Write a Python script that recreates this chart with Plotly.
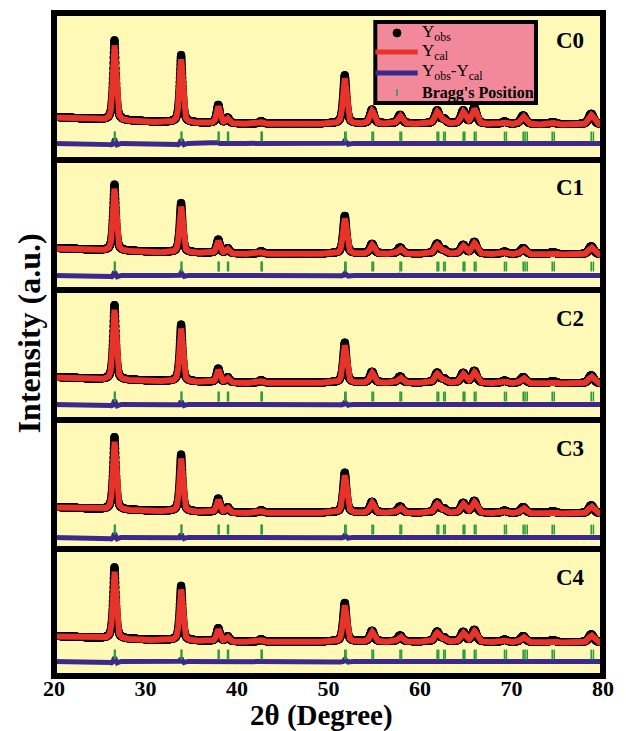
import numpy as np
import plotly.graph_objects as go

# ---------------- data ----------------
samples = ["C0", "C1", "C2", "C3", "C4"]

# refined reflections (2theta, degree) and their FWHM
peak_2theta = [26.61, 33.89, 37.95, 38.97, 42.64, 51.78, 54.76, 57.82,
               61.87, 62.59, 64.72, 65.94, 69.24, 71.28, 74.50, 78.71]
peak_fwhm = [0.42, 0.43, 0.44, 0.44, 0.46, 0.48, 0.55, 0.58,
             0.60, 0.60, 0.62, 0.62, 0.64, 0.66, 0.68, 0.70]

# peak intensities (counts) for each sample
intensity_C0 = [7550, 6350, 1700, 500, 200, 4550, 1300, 800, 1200, 400, 1200, 1500, 200, 800, 200, 1000]
intensity_C1 = [6250, 4650, 1250, 450, 200, 3550, 900, 550, 900, 350, 800, 1100, 200, 550, 200, 750]
intensity_C2 = [7050, 5350, 1250, 450, 200, 3750, 1000, 550, 900, 350, 900, 1100, 200, 550, 200, 750]
intensity_C3 = [6850, 5350, 1250, 450, 200, 3750, 1000, 550, 900, 350, 900, 1100, 200, 550, 200, 750]
intensity_C4 = [6750, 5150, 1200, 450, 200, 3650, 1000, 550, 900, 350, 900, 1100, 200, 550, 200, 750]
intensities = [intensity_C0, intensity_C1, intensity_C2, intensity_C3, intensity_C4]

# background (counts) at a few 2theta points
bg_2theta = [20, 26, 32, 40, 60, 80]
bg_C0 = [650, 350, 150, 0, 0, -100]
bg_C1 = [550, 300, 150, 0, 0, -100]
bg_C2 = [550, 300, 150, 0, 0, -100]
bg_C3 = [550, 300, 150, 0, 0, -100]
bg_C4 = [550, 300, 150, 0, 0, -100]
backgrounds = [bg_C0, bg_C1, bg_C2, bg_C3, bg_C4]

# Bragg positions (K-alpha1 / K-alpha2 reflections)
bragg_positions = [26.61, 26.68, 33.89, 33.97, 37.95, 38.04, 38.97, 39.07, 42.64, 42.75,
                   51.78, 51.92, 54.76, 54.91, 57.82, 57.98, 61.87, 62.04, 62.59, 62.76,
                   64.72, 64.90, 65.94, 66.12, 69.24, 69.44, 71.28, 71.48, 71.72,
                   74.45, 74.67, 78.71, 78.95]

x_ticks = [20, 30, 40, 50, 60, 70, 80]

# ---------------- profile (pseudo-Voigt, as in Rietveld refinement) ----------------
two_theta = np.arange(20.0, 80.0001, 0.02)


def pseudo_voigt(x, x0, fwhm, eta=0.5):
    g = np.exp(-4 * np.log(2) * ((x - x0) / fwhm) ** 2)
    l = 1.0 / (1.0 + 4 * ((x - x0) / fwhm) ** 2)
    return eta * l + (1 - eta) * g


def profile(heights, bg, width_scale=1.0, height_scale=1.0, eta=0.5):
    y = np.interp(two_theta, bg_2theta, bg).astype(float)
    for p, w, h in zip(peak_2theta, peak_fwhm, heights):
        y += h * height_scale * pseudo_voigt(two_theta, p, w * width_scale, eta)
    return y


# ---------------- layout geometry ----------------
W, H = 626, 731
L_PX, R_PX, T_PX, B_PX = 54, 611, 13, 676
panel_edges = [13, 160, 290, 420, 549, 676]
baseline_px = [124, 254, 383, 513, 642]
diff_offset = [-2000, -2200, -2200, -2500, -2000]
tick_offset = [-1250, -1250, -1350, -1650, -1250]
CPP = 100  # counts per pixel

RED = "#E8332B"
BLUE = "#3B2A8C"
GREEN = "#2E9A3C"
BG = "#FFF9B8"
PINK = "#F2899A"
SERIF = "Liberation Serif, Times New Roman, serif"


def px_x(px):
    return (px - L_PX) / (R_PX - L_PX)


def px_y(py):
    return (B_PX - py) / (B_PX - T_PX)


fig = go.Figure()
shapes = []
annotations = []

for i, name in enumerate(samples):
    k = i + 1
    xa = "x" if k == 1 else f"x{k}"
    ya = "y" if k == 1 else f"y{k}"
    cal = profile(intensities[i], backgrounds[i])
    obs = profile(intensities[i], backgrounds[i], width_scale=0.93, height_scale=1.06,
                  eta=0.545) + 60
    diff = obs - cal + diff_offset[i]

    fig.add_trace(go.Scatter(x=two_theta, y=obs, mode="markers", xaxis=xa, yaxis=ya,
                             marker=dict(color="black", size=8), name="Y<sub>obs</sub>",
                             showlegend=False))
    fig.add_trace(go.Scatter(x=two_theta, y=cal, mode="lines", xaxis=xa, yaxis=ya,
                             line=dict(color=RED, width=6), name="Y<sub>cal</sub>",
                             showlegend=False))
    fig.add_trace(go.Scatter(x=two_theta, y=diff, mode="lines", xaxis=xa, yaxis=ya,
                             line=dict(color=BLUE, width=5), name="Y<sub>obs</sub>-Y<sub>cal</sub>",
                             showlegend=False))
    fig.add_trace(go.Scatter(x=bragg_positions, y=[tick_offset[i]] * len(bragg_positions),
                             mode="markers", xaxis=xa, yaxis=ya,
                             marker=dict(symbol="line-ns", size=7, color=GREEN,
                                         line=dict(color=GREEN, width=1.6)),
                             name="Bragg's Position", showlegend=False))

    top, bot = panel_edges[i], panel_edges[i + 1]
    yr = [-(bot - baseline_px[i]) * CPP, (baseline_px[i] - top) * CPP]
    dom = [px_y(bot), px_y(top)]
    xkey = "xaxis" if k == 1 else f"xaxis{k}"
    ykey = "yaxis" if k == 1 else f"yaxis{k}"
    is_bottom = (k == len(samples))
    fig.update_layout(**{
        xkey: dict(range=[20, 80], domain=[0, 1], anchor=ya, showgrid=False, zeroline=False,
                   showticklabels=is_bottom, tickvals=x_ticks, ticks="",
                   ticklabelstandoff=-3,
                   tickfont=dict(family=SERIF, size=22, color="black", weight="bold"),
                   showline=False, matches="x" if k > 1 else None),
        ykey: dict(range=yr, domain=dom, anchor=xa, showgrid=False, zeroline=False,
                   showticklabels=False, ticks="", showline=False, fixedrange=True),
    })
    shapes.append(dict(type="rect", xref="paper", yref="paper", x0=0, x1=1,
                       y0=dom[0], y1=dom[1], line=dict(color="black", width=6),
                       fillcolor="rgba(0,0,0,0)", layer="above"))
    annotations.append(dict(text=f"<b>{name}</b>", xref="paper", yref="paper",
                            x=px_x(578), y=px_y(top + 28), showarrow=False,
                            xanchor="center", yanchor="middle",
                            font=dict(family=SERIF, size=23, color="black")))

# legend box (drawn)
shapes.append(dict(type="rect", xref="paper", yref="paper", x0=px_x(380), x1=px_x(543),
                   y0=px_y(103), y1=px_y(22), line=dict(color="black", width=4),
                   fillcolor=PINK, layer="above"))
shapes.append(dict(type="circle", xref="paper", yref="paper", x0=px_x(398), x1=px_x(406),
                   y0=px_y(37), y1=px_y(29), line=dict(color="black", width=1),
                   fillcolor="black", layer="above"))
shapes.append(dict(type="line", xref="paper", yref="paper", x0=px_x(380), x1=px_x(423),
                   y0=px_y(52), y1=px_y(52), line=dict(color=RED, width=5), layer="above"))
shapes.append(dict(type="line", xref="paper", yref="paper", x0=px_x(380), x1=px_x(423),
                   y0=px_y(73), y1=px_y(73), line=dict(color=BLUE, width=5), layer="above"))
shapes.append(dict(type="line", xref="paper", yref="paper", x0=px_x(402), x1=px_x(402),
                   y0=px_y(96), y1=px_y(89), line=dict(color=GREEN, width=1.5), layer="above"))

legend_texts = ["Y<sub>obs</sub>", "Y<sub>cal</sub>", "Y<sub>obs</sub>-Y<sub>cal</sub>",
                "<b>Bragg's Position</b>"]
legend_y = [33, 52, 72, 93]
legend_size = [17, 17, 17, 16]
for t, yy, fs in zip(legend_texts, legend_y, legend_size):
    annotations.append(dict(text=t, xref="paper", yref="paper", x=px_x(425), y=px_y(yy),
                            showarrow=False, xanchor="left", yanchor="middle",
                            font=dict(family=SERIF, size=fs, color="black")))

# axis titles
annotations.append(dict(text="<b>2θ (Degree)</b>", xref="paper", yref="paper",
                        x=px_x(325), y=px_y(715), showarrow=False, xanchor="center",
                        yanchor="middle", font=dict(family=SERIF, size=29, color="black")))
annotations.append(dict(text="<b>Intensity (a.u.)</b>", xref="paper", yref="paper",
                        x=px_x(29), y=px_y(333), showarrow=False, xanchor="center",
                        yanchor="middle", textangle=-90,
                        font=dict(family=SERIF, size=32, color="black")))

fig.update_layout(
    width=W, height=H,
    margin=dict(l=L_PX, r=W - R_PX, t=T_PX, b=H - B_PX),
    paper_bgcolor="white", plot_bgcolor=BG,
    showlegend=False, shapes=shapes, annotations=annotations,
)

fig.write_html("out.html", config={"displayModeBar": False},
               post_script="document.body.style.margin='0px';"
                           "document.body.style.overflow='hidden';")
